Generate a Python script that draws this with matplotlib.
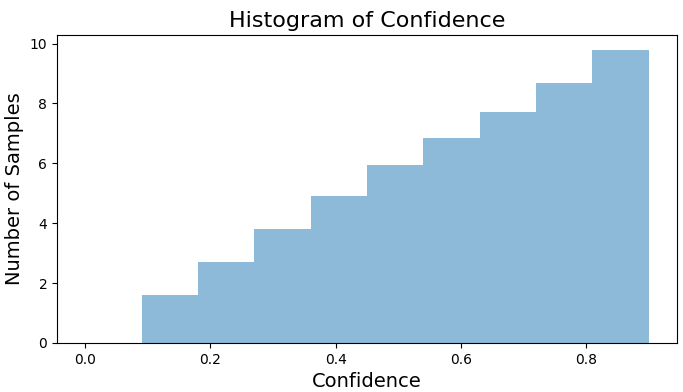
import numpy as np
import matplotlib
matplotlib.use("Agg")
import matplotlib.pyplot as plt

# bin edges and per-bin sample counts
bin_edges = [0.0, 0.09, 0.18, 0.27, 0.36, 0.45, 0.54, 0.63, 0.72, 0.81, 0.90]
counts = [0.0, 1.6, 2.7, 3.8, 4.9, 5.93, 6.83, 7.73, 8.67, 9.8]

centers = [(a + b) / 2 for a, b in zip(bin_edges[:-1], bin_edges[1:])]

fig, ax = plt.subplots(figsize=(6.83, 3.92), dpi=100)
ax.hist(centers, bins=bin_edges, weights=counts, alpha=0.5)

ax.set_title('Histogram of Confidence', fontsize=16)
ax.set_xlabel('Confidence', fontsize=14)
ax.set_ylabel('Number of Samples', fontsize=14)

fig.subplots_adjust(left=0.0835, right=0.991, top=0.911, bottom=0.125)
fig.savefig('out.png', dpi=100)
